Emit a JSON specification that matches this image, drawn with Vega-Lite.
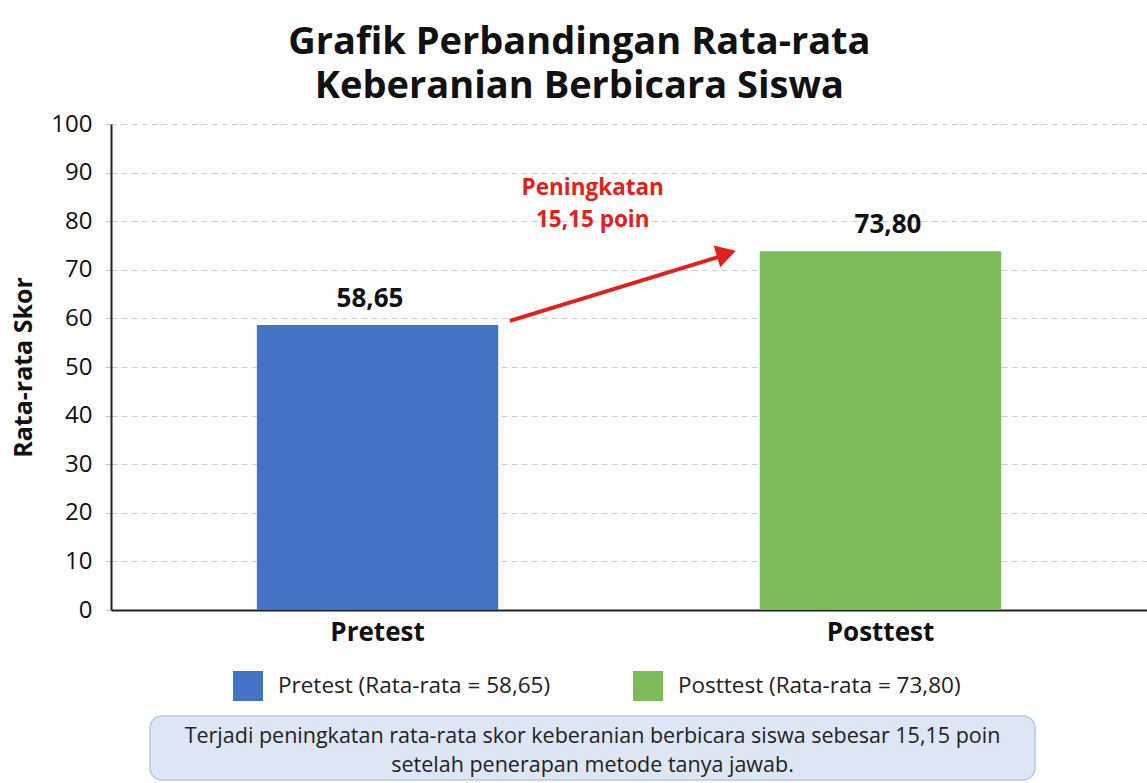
{
  "$schema": "https://vega.github.io/schema/vega-lite/v6.json",
  "background": "white",
  "padding": {"left": 11, "top": 24, "right": 0, "bottom": 0},
  "title": {
    "text": ["Grafik Perbandingan Rata-rata", "Keberanian Berbicara Siswa"],
    "fontSize": 38, "font": "Open Sans", "fontWeight": "bold", "color": "#111111",
    "lineHeight": 44, "anchor": "middle", "offset": 6
  },
  "config": {
    "view": {"stroke": null},
    "font": "Open Sans"
  },
  "datasets": {
    "skor": [
      {"tes": "Pretest", "skor": 58.65, "label": "58,65", "legenda": "Pretest (Rata-rata = 58,65)"},
      {"tes": "Posttest", "skor": 73.8, "label": "73,80", "legenda": "Posttest (Rata-rata = 73,80)"}
    ],
    "panah": [{"x": 0.385, "y": 59.5, "x2": 0.589, "y2": 72.8}],
    "kepala": [{"x": 0.594, "y": 73.35}],
    "catatan": [{"x": 0.465, "y": 86.8, "teks": "Peningkatan\n15,15 poin"}],
    "ringkasan": [{"teks": "Terjadi peningkatan rata-rata skor keberanian berbicara siswa sebesar 15,15 poin\nsetelah penerapan metode tanya jawab."}],
    "kosong": [{"teks": ""}]
  },
  "vconcat": [
    {
      "width": 1036,
      "height": 486,
      "resolve": {"scale": {"x": "independent"}},
      "layer": [
        {
          "data": {"name": "skor"},
          "mark": {"type": "bar"},
          "encoding": {
            "x": {
              "field": "tes", "type": "nominal", "sort": null,
              "scale": {"paddingInner": 0.52, "paddingOuter": 0.29},
              "axis": {
                "title": null, "labelAngle": 0, "labelFontSize": 26, "labelFontWeight": "bold",
                "labelColor": "#111111", "labelPadding": 9, "ticks": false,
                "domainColor": "#222222", "domainWidth": 2, "labelFont": "Open Sans"
              }
            },
            "y": {
              "field": "skor", "type": "quantitative",
              "scale": {"domain": [0, 100], "nice": false},
              "axis": {
                "title": "Rata-rata Skor", "titleFontSize": 25, "titleFontWeight": "bold",
                "titleColor": "#111111", "titleFont": "Open Sans", "titlePadding": 14,
                "values": [0, 10, 20, 30, 40, 50, 60, 70, 80, 90, 100],
                "labelFontSize": 24, "labelColor": "#111111", "labelFont": "Open Sans",
                "labelPadding": 13, "tickSize": 6, "tickColor": "#c8c8c8",
                "domainColor": "#222222", "domainWidth": 2,
                "grid": true, "gridColor": "#cfcfcf", "gridDash": [6, 4], "gridWidth": 1
              }
            },
            "color": {
              "field": "legenda", "type": "nominal",
              "scale": {
                "domain": ["Pretest (Rata-rata = 58,65)", "Posttest (Rata-rata = 73,80)"],
                "range": ["#4472C4", "#7CBB5A"]
              },
              "legend": {
                "title": null, "orient": "none", "direction": "horizontal",
                "legendX": 122, "legendY": 547, "padding": 0,
                "symbolType": "square", "symbolSize": 900, "symbolStrokeWidth": 0,
                "labelFontSize": 22.5, "labelFont": "Open Sans", "labelColor": "#222222",
                "labelOffset": 15, "columnPadding": 82, "labelLimit": 400
              }
            }
          }
        },
        {
          "data": {"name": "skor"},
          "mark": {"type": "text", "fontSize": 26, "fontWeight": "bold", "font": "Open Sans",
                   "color": "#111111", "baseline": "alphabetic", "dy": -18},
          "encoding": {
            "x": {"field": "tes", "type": "nominal", "sort": null,
                  "scale": {"paddingInner": 0.52, "paddingOuter": 0.29}, "axis": null},
            "y": {"field": "skor", "type": "quantitative", "scale": {"domain": [0, 100], "nice": false}},
            "text": {"field": "label"}
          }
        },
        {
          "data": {"name": "panah"},
          "mark": {"type": "rule", "color": "#E3201B", "strokeWidth": 4},
          "encoding": {
            "x": {"field": "x", "type": "quantitative", "scale": {"domain": [0, 1], "nice": false}, "axis": null},
            "x2": {"field": "x2"},
            "y": {"field": "y", "type": "quantitative", "scale": {"domain": [0, 100], "nice": false}},
            "y2": {"field": "y2"}
          }
        },
        {
          "data": {"name": "kepala"},
          "mark": {"type": "point", "shape": "triangle-right", "filled": true, "color": "#E3201B",
                   "size": 520, "angle": 343, "opacity": 1},
          "encoding": {
            "x": {"field": "x", "type": "quantitative", "scale": {"domain": [0, 1], "nice": false}, "axis": null},
            "y": {"field": "y", "type": "quantitative", "scale": {"domain": [0, 100], "nice": false}}
          }
        },
        {
          "data": {"name": "catatan"},
          "mark": {"type": "text", "fontSize": 22.5, "fontWeight": "bold", "font": "Open Sans",
                   "color": "#E3201B", "lineBreak": "\n", "lineHeight": 32, "baseline": "middle"},
          "encoding": {
            "x": {"field": "x", "type": "quantitative", "scale": {"domain": [0, 1], "nice": false}, "axis": null},
            "y": {"field": "y", "type": "quantitative", "scale": {"domain": [0, 100], "nice": false}},
            "text": {"field": "teks"}
          }
        }
      ]
    },
    {
      "spacing": 0,
      "hconcat": [
        {
          "width": 38,
          "height": 64,
          "data": {"name": "kosong"},
          "mark": {"type": "text"},
          "encoding": {"text": {"field": "teks"}}
        },
        {
          "width": 885,
          "height": 64,
          "view": {"fill": "#DCE6F5", "stroke": "#B4C7E7", "strokeWidth": 1.5, "cornerRadius": 12},
          "data": {"name": "ringkasan"},
          "mark": {"type": "text", "lineBreak": "\n", "fontSize": 21.5, "font": "Open Sans",
                   "lineHeight": 29, "color": "#222222", "baseline": "middle", "dy": -11},
          "encoding": {"text": {"field": "teks"}}
        }
      ]
    }
  ],
  "spacing": 70
}
